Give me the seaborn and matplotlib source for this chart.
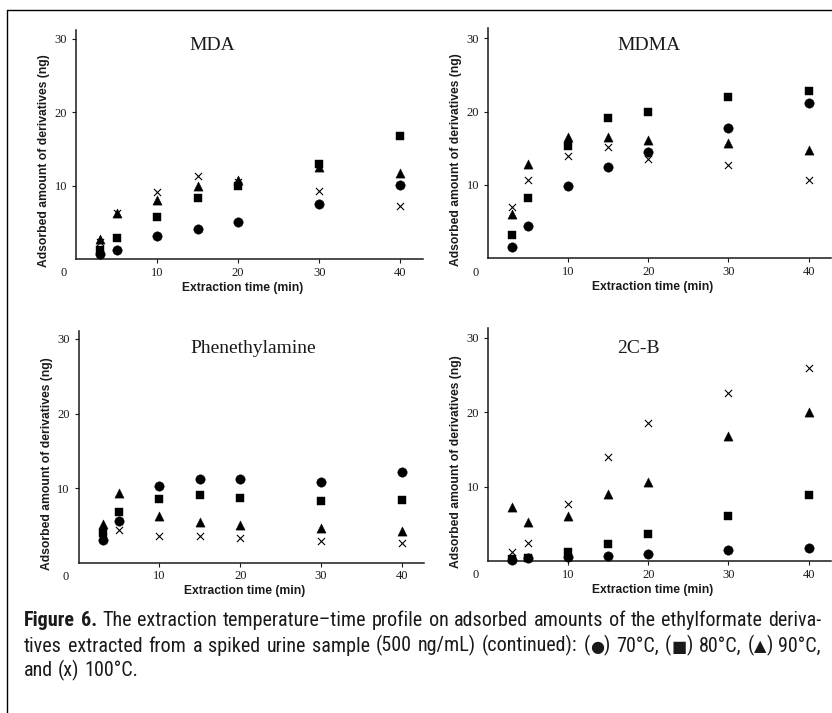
import matplotlib
matplotlib.use("Agg")
import matplotlib.pyplot as plt
import seaborn as sns
import numpy as np
import pandas as pd
from matplotlib import font_manager as fm
from matplotlib.font_manager import FontProperties
from matplotlib.ft2font import FT2Font
from matplotlib.lines import Line2D

# ---------------- data ----------------
times = [3, 5, 10, 15, 20, 30, 40]
temps = ["70°C", "80°C", "90°C", "100°C"]
compounds = ["MDA", "MDMA", "Phenethylamine", "2C-B"]

mda_70 = [0.7, 1.2, 3.2, 4.1, 5.0, 7.5, 10.1]
mda_80 = [1.2, 2.8, 5.7, 8.3, 10.0, 12.9, 16.8]
mda_90 = [2.7, 6.2, 8.1, 10.0, 10.7, 12.5, 11.7]
mda_100 = [2.3, 6.2, 9.1, 11.3, 10.5, 9.2, 7.2]

mdma_70 = [1.5, 4.4, 9.9, 12.4, 14.5, 17.8, 21.1]
mdma_80 = [3.2, 8.2, 15.3, 19.1, 19.9, 22.0, 22.8]
mdma_90 = [6.1, 12.8, 16.6, 16.6, 16.1, 15.7, 14.8]
mdma_100 = [7.0, 10.7, 14.0, 15.2, 13.6, 12.7, 10.7]

phen_70 = [3.1, 5.6, 10.3, 11.2, 11.2, 10.8, 12.1]
phen_80 = [4.0, 6.8, 8.6, 9.1, 8.7, 8.3, 8.4]
phen_90 = [5.2, 9.4, 6.2, 5.4, 5.0, 4.6, 4.3]
phen_100 = [3.5, 4.4, 3.6, 3.6, 3.3, 2.9, 2.6]

cb_70 = [0.2, 0.35, 0.6, 0.7, 1.0, 1.5, 1.8]
cb_80 = [0.3, 0.4, 1.2, 2.3, 3.6, 6.0, 8.9]
cb_90 = [7.3, 5.2, 6.0, 9.0, 10.6, 16.8, 20.0]
cb_100 = [1.2, 2.4, 7.7, 14.0, 18.5, 22.6, 25.9]

x_ticks = [10, 20, 30, 40]
y_ticks = [10, 20, 30]

series = {
    "MDA": [mda_70, mda_80, mda_90, mda_100],
    "MDMA": [mdma_70, mdma_80, mdma_90, mdma_100],
    "Phenethylamine": [phen_70, phen_80, phen_90, phen_100],
    "2C-B": [cb_70, cb_80, cb_90, cb_100],
}

rows = []
for c in compounds:
    for t, vals in zip(temps, series[c]):
        for tm, v in zip(times, vals):
            rows.append({"compound": c, "temp": t, "time": tm, "amount": v})
df = pd.DataFrame(rows)

# ---------------- style ----------------
sns.set_style("ticks")
plt.rcParams["font.family"] = ["Liberation Sans", "DejaVu Sans"]

W, H = 832, 713
fig = plt.figure(figsize=(W / 100, H / 100), dpi=100)
fig.patch.set_facecolor("white")

# (left, top, width, height, ymax, title_x, title_y) in pixels / axes fractions
rects = {
    "MDA": (76, 30, 347, 229, 31.2, 0.393, 0.913),
    "MDMA": (488, 28.3, 343, 230, 31.35, 0.469, 0.906),
    "Phenethylamine": (78.7, 330.7, 345.6, 232, 31.1, 0.504, 0.903),
    "2C-B": (488, 328.3, 343, 232.7, 31.3, 0.44, 0.893),
}

marker_style = {
    "70°C": dict(marker="o", s=46, linewidth=0.3, edgecolor="black"),
    "80°C": dict(marker="s", s=32, linewidth=0.3, edgecolor="black"),
    "90°C": dict(marker="^", s=44, linewidth=0.3, edgecolor="black"),
    "100°C": dict(marker="x", s=26, linewidth=0.8),
}

serif = ["Liberation Serif", "DejaVu Serif"]
ink = "#1a1a1a"

for c in compounds:
    L, T, Wd, Hd, ymax, tx, ty = rects[c]
    ax = fig.add_axes([L / W, 1 - (T + Hd) / H, Wd / W, Hd / H])
    ax.set_facecolor("white")
    sub = df[df["compound"] == c]
    for t in temps:
        d = sub[sub["temp"] == t]
        sns.scatterplot(data=d, x="time", y="amount", color="black",
                        ax=ax, legend=False, clip_on=False, zorder=5,
                        **marker_style[t])
    ax.set_xlim(0, 42.8)
    ax.set_ylim(0, ymax)
    ax.set_xticks(x_ticks)
    ax.set_yticks(y_ticks)
    ax.set_xticklabels([str(v) for v in x_ticks], family=serif, fontsize=9)
    ax.set_yticklabels([str(v) for v in y_ticks], family=serif, fontsize=9)
    ax.tick_params(axis="both", direction="out", length=3, width=0.8,
                   color=ink, labelcolor=ink)
    ax.tick_params(axis="x", pad=2.5)
    ax.tick_params(axis="y", pad=3.5)
    for side in ["top", "right"]:
        ax.spines[side].set_visible(False)
    for side in ["left", "bottom"]:
        ax.spines[side].set_color(ink)
        ax.spines[side].set_linewidth(1.1)
    ax.set_xlabel("Extraction time (min)", fontsize=8.7, fontweight="bold",
                  color=ink)
    ax.set_ylabel("Adsorbed amount of derivatives (ng)", fontsize=8.7,
                  fontweight="bold", color=ink)
    ax.xaxis.set_label_coords(0.48, -22.6 / Hd)
    ax.yaxis.set_label_coords(-26 / Wd, 0.428)
    ax.text(-12.7 / Wd, -9.3 / Hd + 0.004, "0", transform=ax.transAxes,
            ha="center", va="top", family=serif, fontsize=9, color=ink)
    ax.text(tx, ty, c, transform=ax.transAxes, ha="center", va="baseline",
            family=serif, fontsize=14, color=ink)

# ---------------- outer frame ----------------
fig.add_artist(Line2D([7 / W, 7 / W], [0, 1 - 10 / H], transform=fig.transFigure,
                      color="black", lw=1.0))
fig.add_artist(Line2D([7 / W, 1], [1 - 10 / H, 1 - 10 / H], transform=fig.transFigure,
                      color="black", lw=1.0))

# ---------------- caption ----------------
def wnum(w):
    if isinstance(w, (int, float)):
        return float(w)
    return float(fm.weight_dict.get(str(w).lower(), 400))


def is_cond(f):
    return ("Condensed" in f.name or "Narrow" in f.name
            or "condensed" in str(f.stretch).lower())


def pick_font(target):
    prefs = ["Roboto Condensed", "Liberation Sans Narrow", "Open Sans Condensed",
             "Noto Sans Condensed", "DejaVu Sans Condensed", "DejaVu Sans",
             "Noto Sans", "Open Sans", "Roboto"]
    entries = fm.fontManager.ttflist
    for tol in (0, 100):
        for p in prefs:
            for f in entries:
                if (f.name == p and is_cond(f) and f.style == "normal"
                        and abs(wnum(f.weight) - target) <= tol
                        and f.fname.lower().endswith((".ttf", ".otf"))):
                    return f.fname
    return fm.findfont(FontProperties(family="Lato",
                                      weight="bold" if target >= 600 else "normal"))


reg_path = pick_font(400)
bold_path = pick_font(700)
glyph_cache = {}


def has_glyph(path, ch):
    if path not in glyph_cache:
        glyph_cache[path] = FT2Font(path)
    return glyph_cache[path].get_char_index(ord(ch)) != 0


def runs_for(word, bold):
    path = bold_path if bold else reg_path
    runs = []
    for ch in word:
        ok = has_glyph(path, ch)
        if runs and runs[-1][1] == ok:
            runs[-1][0] += ch
        else:
            runs.append([ch, ok])
    return [(r[0], path if r[1] else None, bold) for r in runs]


def fprop(path, bold, size):
    if path is None:
        return FontProperties(family="DejaVu Sans",
                              weight="bold" if bold else "normal", size=size * 0.8)
    return FontProperties(fname=path, size=size)


renderer = fig.canvas.get_renderer()


def text_width(s, path, bold, size):
    t = fig.text(0, 0, s, fontproperties=fprop(path, bold, size))
    w = t.get_window_extent(renderer).width
    t.remove()
    return w


def word_width(word, bold, size):
    return sum(text_width(s, p, b, size) for s, p, b in runs_for(word, bold))


def space_width(size):
    return (text_width("a a", reg_path, False, size)
            - text_width("aa", reg_path, False, size))


cap_lines = [
    "Figure 6. The extraction temperature\u2013time profile on adsorbed amounts of the ethylformate deriva-",
    "tives extracted from a spiked urine sample (500 ng/mL) (continued): (\u25cf) 70\u00b0C, (\u25a0) 80\u00b0C, (\u25b2) 90\u00b0C,",
    "and (x) 100\u00b0C.",
]
baselines = [626.5, 651.5, 676.5]
x_left, x_right = 24, 821


def natural_width(li, line, size):
    words = line.split(" ")
    tot = sum(word_width(w, li == 0 and i < 2, size) for i, w in enumerate(words))
    return tot + space_width(size) * (len(words) - 1)


base_size = 12.0
nw = max(natural_width(0, cap_lines[0], base_size),
         natural_width(1, cap_lines[1], base_size))
cap_size = base_size * min(1.25, (x_right - x_left) * 0.985 / nw)
cap_size = max(cap_size, 8.0)

for li, (line, yb) in enumerate(zip(cap_lines, baselines)):
    words = line.split(" ")
    bolds = [(li == 0 and i < 2) for i in range(len(words))]
    widths = [word_width(w, b, cap_size) for w, b in zip(words, bolds)]
    if li < 2:
        gap = (x_right - x_left - sum(widths)) / (len(words) - 1)
    else:
        gap = space_width(cap_size)
    x = x_left
    for w, b, wd in zip(words, bolds, widths):
        xx = x
        for s, p, bb in runs_for(w, b):
            fig.text(xx / W, 1 - yb / H, s, fontproperties=fprop(p, bb, cap_size),
                     ha="left", va="baseline", color=ink)
            xx += text_width(s, p, bb, cap_size)
        x += wd + gap

fig.savefig("out.png", dpi=100, facecolor="white")
